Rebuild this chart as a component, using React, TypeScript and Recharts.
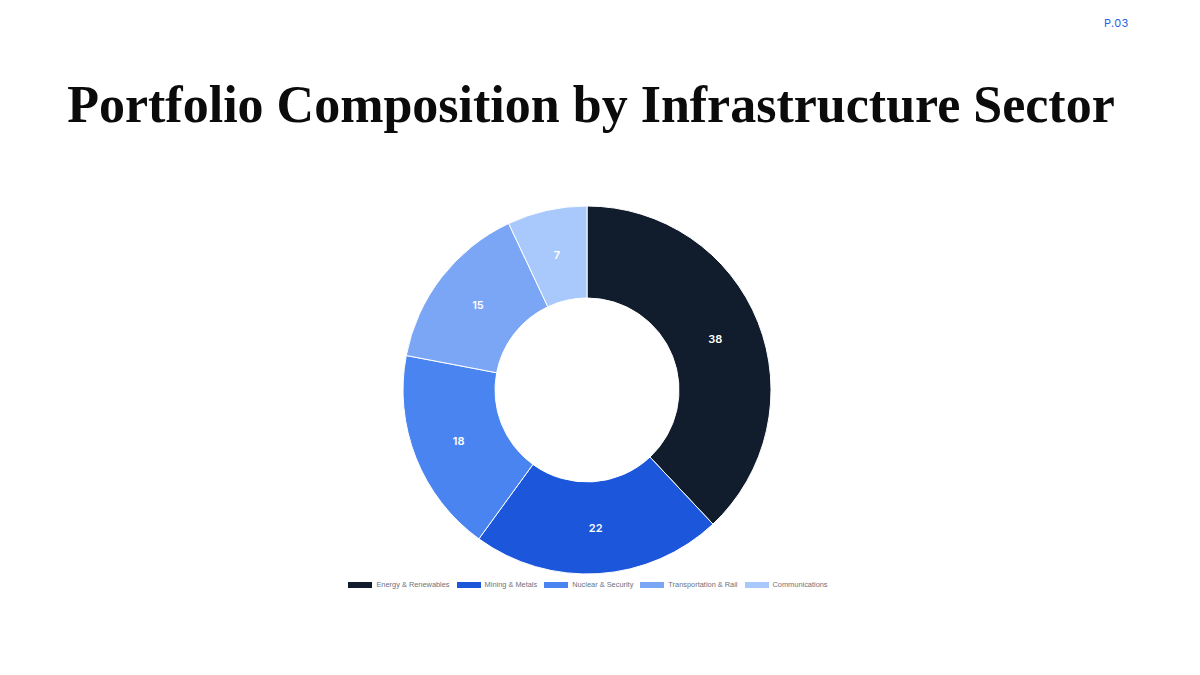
import { PieChart, Pie, Cell, Legend } from 'recharts'

const sectors = ['Energy & Renewables', 'Mining & Metals', 'Nuclear & Security', 'Transportation & Rail', 'Communications']
const shares = [38, 22, 18, 15, 7]
const colors = ['#111d2c', '#1c57db', '#4a84f1', '#7ba6f6', '#a9c9fd']

const data = sectors.map((name, i) => ({ name, value: shares[i] }))

const RAD = Math.PI / 180

const renderLabel = (props: any) => {
  const { cx, cy, midAngle, innerRadius, outerRadius, value } = props
  const r = (innerRadius + outerRadius) / 2
  const x = cx + r * Math.cos(-midAngle * RAD)
  const y = cy + r * Math.sin(-midAngle * RAD)
  return (
    <text x={x} y={y} fill="#ffffff" textAnchor="middle" dominantBaseline="central"
      style={{ fontFamily: 'Inter, sans-serif', fontSize: 11, fontWeight: 600 }}>
      {value}
    </text>
  )
}

const renderLegend = () => (
  <div style={{ display: 'flex', justifyContent: 'center', gap: 7, fontFamily: '"Liberation Sans", Arial, sans-serif', fontSize: 7.4, color: '#6b7280' }}>
    {sectors.map((s, i) => (
      <div key={s} style={{ display: 'flex', alignItems: 'center' }}>
        <span style={{ display: 'inline-block', width: 24, height: 6, background: colors[i], marginRight: 4 }} />
        <span>{s}</span>
      </div>
    ))}
  </div>
)

export default function App() {
  return (
    <div style={{ position: 'fixed', top: 0, left: 0, width: 1200, height: 675, background: '#ffffff', overflow: 'hidden' }}>
      <div style={{ position: 'absolute', top: 16, left: 1104, fontFamily: 'Inter, sans-serif', fontSize: 11, color: '#2563eb', letterSpacing: 0.3 }}>
        P.03
      </div>
      <div style={{ position: 'absolute', top: 69, left: 0, width: 1182, textAlign: 'center', fontFamily: '"Liberation Serif", serif', fontWeight: 700, fontSize: 52, color: '#0b0b0b', lineHeight: '72px' }}>
        Portfolio Composition by Infrastructure Sector
      </div>
      <div style={{ position: 'absolute', top: 0, left: 0 }}>
        <PieChart width={1200} height={675} margin={{ top: 0, right: 0, bottom: 0, left: 0 }}>
          <Pie
            data={data}
            dataKey="value"
            nameKey="name"
            cx={587}
            cy={390}
            innerRadius={92}
            outerRadius={184}
            startAngle={90}
            endAngle={-270}
            stroke="#ffffff"
            strokeWidth={1}
            label={renderLabel}
            labelLine={false}
            isAnimationActive={false}
          >
            {data.map((d, i) => (
              <Cell key={d.name} fill={colors[i]} />
            ))}
          </Pie>
          <Legend content={renderLegend} wrapperStyle={{ position: 'absolute', top: 580, left: 0, width: 1176 }} />
        </PieChart>
      </div>
    </div>
  )
}
